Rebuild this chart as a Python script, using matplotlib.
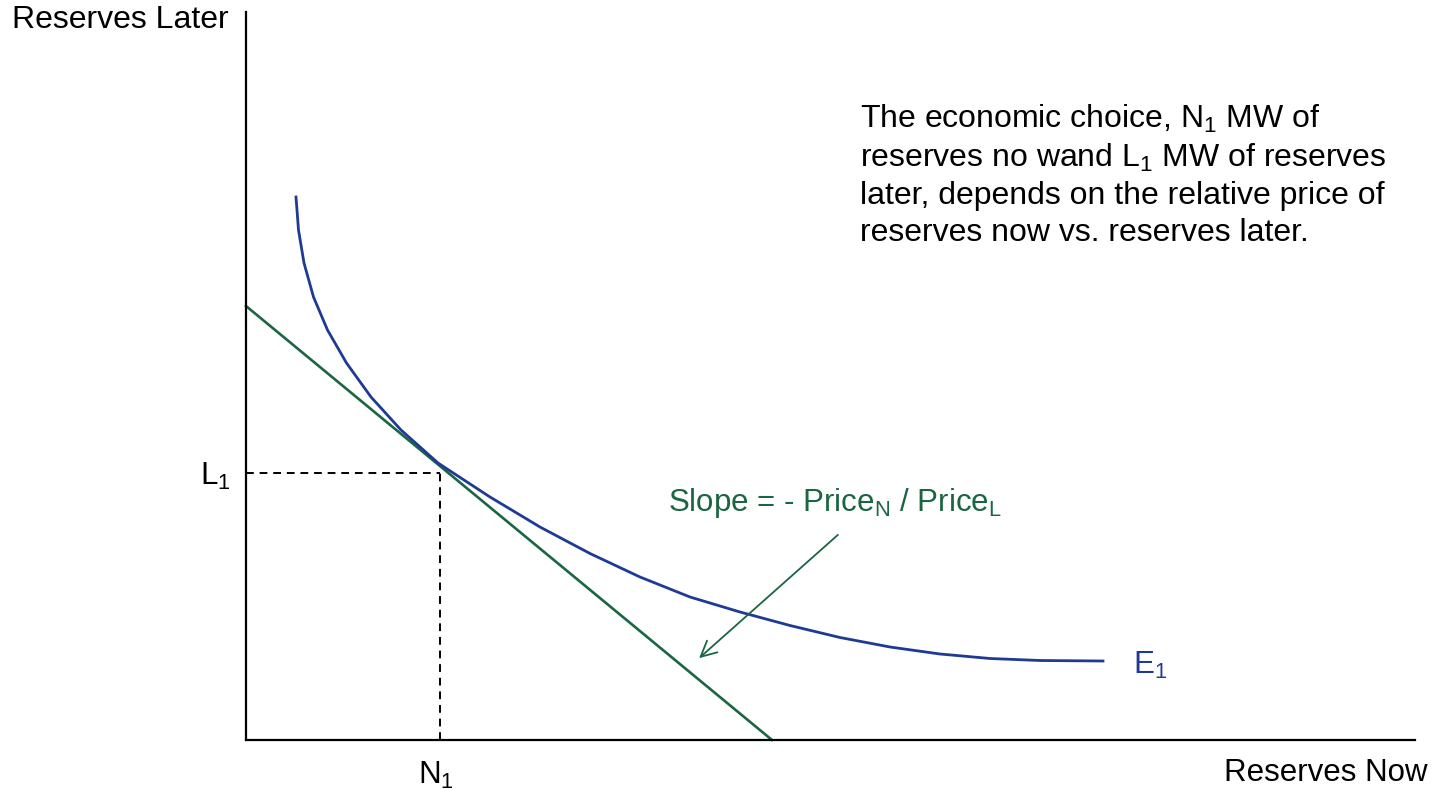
import numpy as np
import matplotlib
matplotlib.use("Agg")
import matplotlib.pyplot as plt

plt.rcParams['font.family'] = ['Liberation Sans', 'DejaVu Sans']
plt.rcParams['mathtext.fontset'] = 'custom'
plt.rcParams['mathtext.rm'] = 'Liberation Sans'
plt.rcParams['mathtext.it'] = 'Liberation Sans'
plt.rcParams['mathtext.bf'] = 'Liberation Sans:bold'

# indifference curve E1 (reserves now, reserves later)
e1_now = [50, 52.5, 58, 67.5, 81.5, 100.5, 125, 155, 192, 244, 294, 344,
          394, 444, 494, 544, 594, 644, 694, 744, 794, 857]
e1_later = [543, 510, 477, 443, 410, 377, 343, 310, 277, 243, 213, 186.5,
            163, 143, 128, 114.5, 102.5, 93, 86, 81.5, 79.5, 79]

# budget line (price ratio)
budget_now = [0, 526]
budget_later = [434, 0]

# economic choice
n1 = 194
l1 = 267

# slope arrow: tail, head
arrow_tail = (594, 207)
arrow_head = (451, 80)

blue = '#1d3b95'
green = '#1b6642'
fs = 22.5

fig = plt.figure(figsize=(14.33, 7.9), dpi=100)
ax = fig.add_axes([246 / 1433, 50 / 790, 1169 / 1433, 728 / 790])
ax.set_xlim(0, 1169)
ax.set_ylim(0, 728)

for side in ['top', 'right']:
    ax.spines[side].set_visible(False)
for side in ['left', 'bottom']:
    ax.spines[side].set_linewidth(1.6)
ax.set_xticks([])
ax.set_yticks([])

ax.plot(budget_now, budget_later, color=green, lw=1.9, clip_on=False)
ax.plot(e1_now, e1_later, color=blue, lw=2.0, solid_joinstyle='round')

# dashed guides to the chosen point
ax.plot([0, n1], [l1, l1], color='black', lw=1.4, dashes=(4, 3))
ax.plot([n1, n1], [0, l1], color='black', lw=1.4, dashes=(4, 3))

ax.annotate('', xy=arrow_head, xytext=arrow_tail,
            arrowprops=dict(arrowstyle='->', color=green, lw=1.3,
                            mutation_scale=28))

ax.text(422, 237, r'Slope = - Price$_\mathrm{N}$ / Price$_\mathrm{L}$',
        color=green, fontsize=fs, ha='left', va='center')
ax.text(887, 75, r'E$_1$', color=blue, fontsize=fs, ha='left', va='center')

ax.text(614, 637,
        'The economic choice, N$_1$ MW of\n'
        'reserves no wand L$_1$ MW of reserves\n'
        'later, depends on the relative price of\n'
        'reserves now vs. reserves later.',
        fontsize=23, ha='left', va='top', linespacing=1.29)

ax.text(-46, 264, r'L$_1$', fontsize=fs, ha='left', va='center', clip_on=False)
ax.text(172, -35, r'N$_1$', fontsize=fs, ha='left', va='center', clip_on=False)

fig.text(12 / 1433, 1 - 20 / 790, 'Reserves Later', fontsize=23,
         ha='left', va='center')
fig.text(1428 / 1433, 1 - 773 / 790, 'Reserves Now', fontsize=fs,
         ha='right', va='center')

fig.savefig('out.png', dpi=100)
